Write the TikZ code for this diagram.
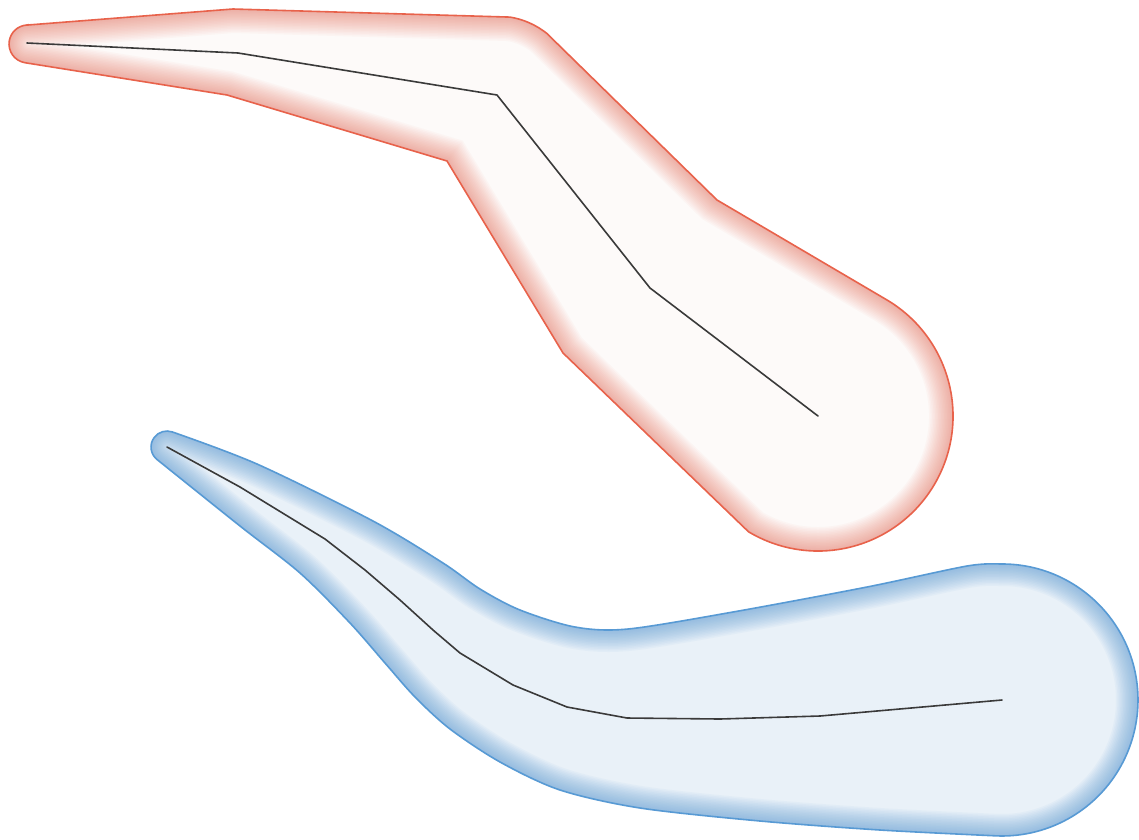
\documentclass[tikz,border=0pt]{standalone}
\definecolor{redline}{RGB}{232,98,75}
\definecolor{redfill}{RGB}{253,250,249}
\definecolor{blueline}{RGB}{88,154,212}
\definecolor{bluefill}{RGB}{233,241,248}
\definecolor{axisgray}{RGB}{58,58,58}
\newcommand\redshape{(26.5,25.1) -- (233,9) -- (510.1,17.1) arc[start angle=-80.6,end angle=-51.6,radius=80] -- (717,200) -- (885.5,299.1) arc[start angle=-60,end angle=121,radius=135] -- (563,353) -- (447,161) -- (227,95) -- (24.9,62.7) arc[start angle=99.5,end angle=265.6,radius=19] -- cycle}
\newcommand\blueshape{plot[smooth,tension=0.5] coordinates {(172.5,432) (257,464) (373,521) (443,563) (480,589) (520,610) (575,627) (628,629) (733,612) (867,587) (967,566) (999.6,564)} arc[start angle=-91,end angle=92,radius=136] -- plot[smooth,tension=0.5] coordinates {(997.3,835.9) (880,830) (760,821) (640,808) (560,790) (500,762) (450,729) (415,697) (385,663) (350,623) (300,573) (240,526) (157.4,459.8)} arc[start angle=127,end angle=290,radius=16] -- cycle}
\tikzset{
  centreline/.style={axisgray,line width=1.6pt,line join=round,line cap=round},
}
\begin{document}
\begin{tikzpicture}[x=1pt,y=-1pt]
\useasboundingbox (0,0) rectangle (1139,839);
% red shape
\begin{scope}
  \clip \redshape;
  \fill[redfill] \redshape;
  \foreach \w in {48,45,...,3} {\draw[redline,opacity=0.035,line width=\w pt] \redshape;}
\end{scope}
\draw[redline,line width=1.6pt] \redshape;
% blue shape
\begin{scope}
  \clip \blueshape;
  \fill[bluefill] \blueshape;
  \foreach \w in {44,41,...,2} {\draw[blueline,opacity=0.05,line width=\w pt] \blueshape;}
\end{scope}
\draw[blueline,line width=1.6pt] \blueshape;
% centre lines
\coordinate (r1) at (27,43);
\coordinate (r2) at (238,53);
\coordinate (r3) at (497,95);
\coordinate (r4) at (650,288);
\coordinate (r5) at (818,416);
\draw[centreline] (r1) -- (r2) -- (r3) -- (r4) -- (r5);
\coordinate (b1) at (167,447);
\coordinate (b2) at (240,487);
\coordinate (b3) at (325,539);
\coordinate (b4) at (365,570);
\coordinate (b5) at (400,600);
\coordinate (b6) at (433,630);
\coordinate (b7) at (460,653);
\coordinate (b8) at (513,685);
\coordinate (b9) at (567,707);
\coordinate (b10) at (627,718);
\coordinate (b11) at (720,719);
\coordinate (b12) at (820,716);
\coordinate (b13) at (1002,700);
\draw[centreline] (b1) -- (b2) -- (b3) -- (b4) -- (b5) -- (b6) -- (b7) -- (b8) -- (b9) -- (b10) -- (b11) -- (b12) -- (b13);
\end{tikzpicture}
\end{document}
